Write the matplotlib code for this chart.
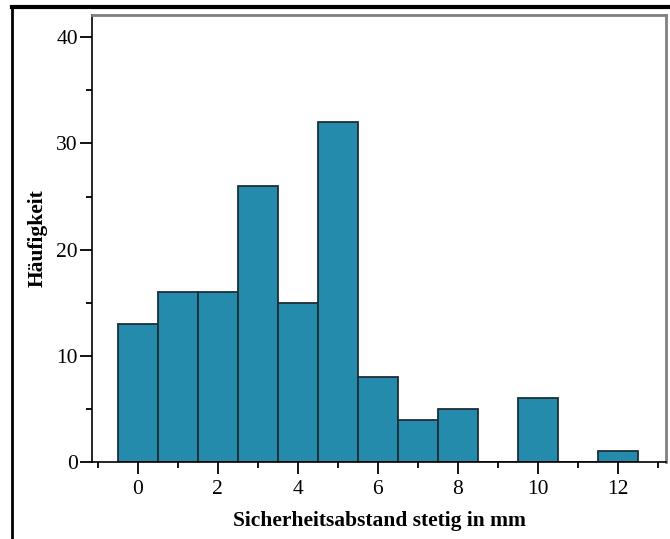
import matplotlib
matplotlib.use("Agg")
import matplotlib.pyplot as plt
from matplotlib.lines import Line2D
from matplotlib.ticker import MultipleLocator

# Sicherheitsabstand (mm) -> Häufigkeit
abstand = [0, 1, 2, 3, 4, 5, 6, 7, 8, 9, 10, 11, 12]
haeufigkeit = [13, 16, 16, 26, 15, 32, 8, 4, 5, 0, 6, 0, 1]

x_ticks = [0, 2, 4, 6, 8, 10, 12]
y_ticks = [0, 10, 20, 30, 40]

plt.rcParams['font.family'] = ['Liberation Serif', 'DejaVu Serif']

fig = plt.figure(figsize=(6.7, 5.39), dpi=100)
ax = fig.add_axes([92 / 670, 1 - 462 / 539, (666 - 92) / 670, (462 - 15) / 539])

ax.bar(abstand, haeufigkeit, width=1.0, color='#258bad', edgecolor='#1d2f36', linewidth=1.3)

ax.set_xlim(-1.14, 13.2)
ax.set_ylim(0, 42.1)
ax.set_xticks(x_ticks)
ax.set_yticks(y_ticks)
ax.xaxis.set_minor_locator(MultipleLocator(1))
ax.yaxis.set_minor_locator(MultipleLocator(5))
ax.tick_params(axis='both', which='major', length=8.6, width=1.3, labelsize=15.5, direction='out')
ax.tick_params(axis='both', which='minor', length=4.3, width=1.3, direction='out')
ax.tick_params(axis='x', pad=4.5)
ax.tick_params(axis='y', pad=1.5)

for side in ['top', 'right']:
    ax.spines[side].set_color('#808080')
    ax.spines[side].set_linewidth(2)
for side in ['left', 'bottom']:
    ax.spines[side].set_color('black')
    ax.spines[side].set_linewidth(1.2)

ax.set_xlabel('Sicherheitsabstand stetig in mm', fontsize=15.5, fontweight='bold', labelpad=8.5)
ax.set_ylabel('Häufigkeit', fontsize=15.5, fontweight='bold', labelpad=6)

# outer frame of the cropped figure
fig.add_artist(Line2D([12 / 670, 1], [1 - 7 / 539, 1 - 7 / 539], color='black', lw=3, transform=fig.transFigure))
fig.add_artist(Line2D([12 / 670, 12 / 670], [0, 1 - 7 / 539], color='black', lw=2, transform=fig.transFigure))

fig.savefig('out.png', dpi=100)
